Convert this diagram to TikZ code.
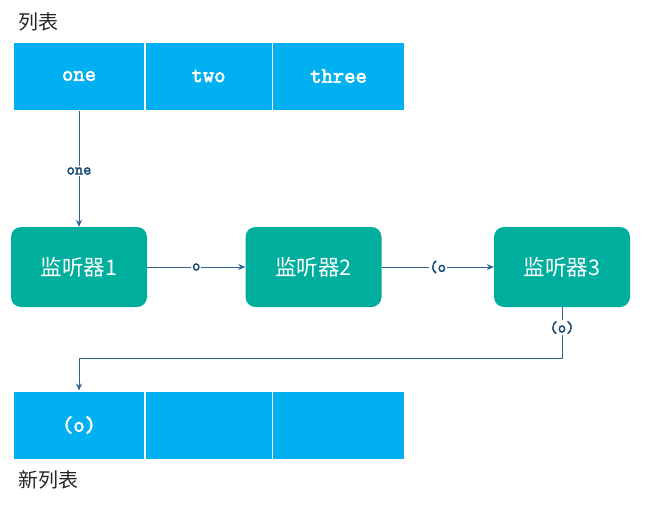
\documentclass[tikz,border=0pt]{standalone}
\usepackage{fontspec}
\setmainfont{Latin Modern Mono}[FakeBold=3]
\newfontfamily\cjk{Noto Sans CJK SC}
\usetikzlibrary{arrows.meta, positioning}

\definecolor{cellblue}{HTML}{00B0F0}
\definecolor{boxgreen}{HTML}{00AE9D}
\definecolor{linkblue}{HTML}{2E6496}
\definecolor{labelblue}{HTML}{1F4E79}

\begin{document}
\begin{tikzpicture}[
        x=1pt, y=-1pt,
        cell/.style={fill=cellblue, draw=white, line width=1pt, minimum height=68pt, inner sep=0pt, text=white, font=\fontsize{22}{24}\selectfont},
        listener/.style={fill=boxgreen, rounded corners=10pt, minimum width=136pt, minimum height=80pt, text=white, font=\fontsize{21.5}{24}\selectfont\cjk},
        lbl/.style={fill=white, inner sep=1pt, text=labelblue, font=\fontsize{16}{18}\selectfont},
        title/.style={anchor=west, inner sep=0pt, text=black!85, font=\fontsize{20}{22}\selectfont\cjk},
        arrow/.style={-{Stealth[length=7pt, width=6pt]}, draw=linkblue, line width=0.8pt}
    ]
    \useasboundingbox (0,0) rectangle (648,509);

    % Input list
    \node[title] (oldname) at (18,22) {列表};
    \node[cell, minimum width=131pt] (o1) at (79,76) {one};
    \node[cell, minimum width=127pt] (o2) at (208.5,76) {two};
    \node[cell, minimum width=132pt] (o3) at (338.5,76) {three};

    % Listeners
    \node[listener] (l1) at (79,267) {监听器1};
    \node[listener] (l2) at (313.5,267) {监听器2};
    \node[listener] (l3) at (562,267) {监听器3};

    % Output list
    \node[cell, minimum width=131pt] (n1) at (79,425) {(o)};
    \node[cell, minimum width=127pt] (n2) at (208.5,425) {};
    \node[cell, minimum width=132pt] (n3) at (338.5,425) {};
    \node[title] (newname) at (18,480) {新列表};

    % Connectors
    \draw[arrow] (o1) -- node[lbl, pos=0.52] {one} (l1);
    \draw[arrow] (l1) -- node[lbl] {o} (l2);
    \draw[arrow] (l2) -- node[lbl] {(o} (l3);
    \draw[arrow] (l3.south) -- node[lbl, pos=0.4] {(o)} ++(0,51) -| (n1.north);

\end{tikzpicture}
\end{document}
